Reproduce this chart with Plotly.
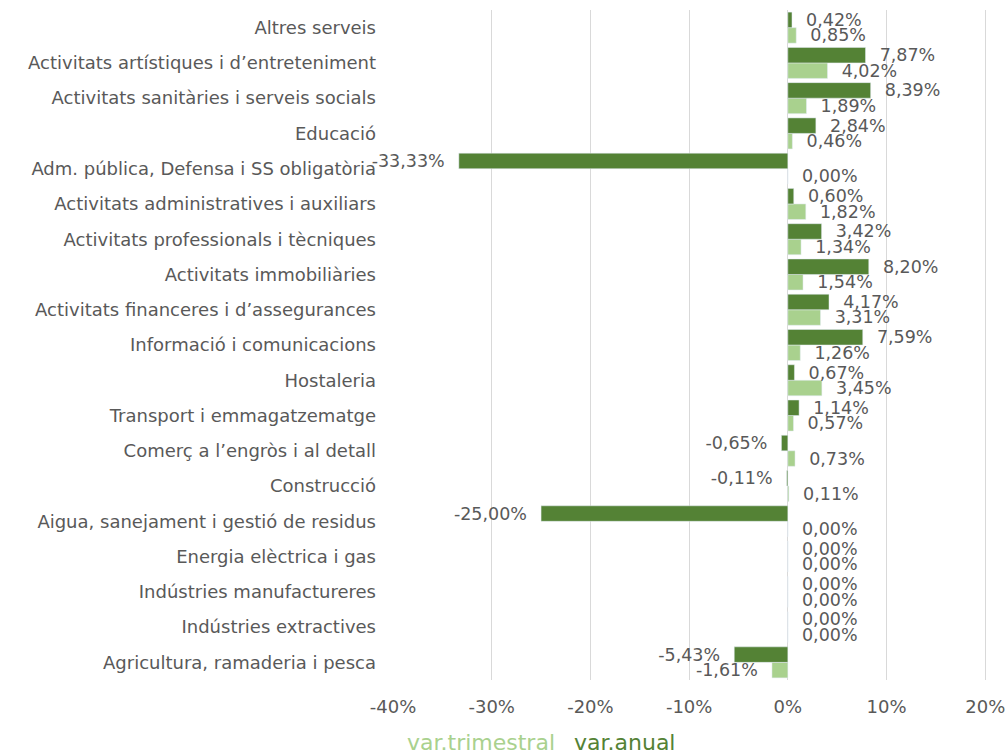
"""
Variació trimestral i anual per sector d'activitat - barres horitzontals
"""

import plotly.graph_objects as go

LIGHT_GREEN = '#A9D18E'
DARK_GREEN = '#548235'
TEXT_GREY = '#595959'
GRID_GREY = '#D9D9D9'
FONT = 'DejaVu Sans'

sectors = [
    'Agricultura, ramaderia i pesca',
    'Indústries extractives',
    'Indústries manufactureres',
    'Energia elèctrica i gas',
    'Aigua, sanejament i gestió de residus',
    'Construcció',
    'Comerç a l’engròs i al detall',
    'Transport i emmagatzematge',
    'Hostaleria',
    'Informació i comunicacions',
    'Activitats financeres i d’assegurances',
    'Activitats immobiliàries',
    'Activitats professionals i tècniques',
    'Activitats administratives i auxiliars',
    'Adm. pública, Defensa i SS obligatòria',
    'Educació',
    'Activitats sanitàries i serveis socials',
    'Activitats artístiques i d’entreteniment',
    'Altres serveis',
]

var_trimestral = [-1.61, 0.00, 0.00, 0.00, 0.00, 0.11, 0.73, 0.57, 3.45, 1.26,
                  3.31, 1.54, 1.34, 1.82, 0.00, 0.46, 1.89, 4.02, 0.85]
var_anual = [-5.43, 0.00, 0.00, 0.00, -25.00, -0.11, -0.65, 1.14, 0.67, 7.59,
             4.17, 8.20, 3.42, 0.60, -33.33, 2.84, 8.39, 7.87, 0.42]

x_tickvals = [-40, -30, -20, -10, 0, 10, 20]
x_ticktext = ['-40%', '-30%', '-20%', '-10%', '0%', '10%', '20%']


def fmt(v):
    # Catalan style: comma decimal, padded away from the bar end
    s = f'{v:.2f}'.replace('.', ',') + '%'
    pad = '\u00a0\u00a0'
    return s + pad if v < 0 else pad + s


fig = go.Figure()

for name, values, color in [
    ('var.trimestral', var_trimestral, LIGHT_GREEN),
    ('var.anual', var_anual, DARK_GREEN),
]:
    fig.add_trace(go.Bar(
        y=sectors,
        x=values,
        name=name,
        orientation='h',
        marker=dict(color=color),
        text=[fmt(v) for v in values],
        textposition='outside',
        constraintext='none',
        cliponaxis=False,
        textfont=dict(family=FONT, color=TEXT_GREY, size=17.5),
        showlegend=False,
    ))

# legend drawn as coloured text, no symbols
fig.add_annotation(text='var.trimestral', xref='paper', yref='paper',
                   x=0.268, y=-0.093, xanchor='right', yanchor='middle',
                   showarrow=False, font=dict(family=FONT, color=LIGHT_GREEN, size=22))
fig.add_annotation(text='var.anual', xref='paper', yref='paper',
                   x=0.293, y=-0.093, xanchor='left', yanchor='middle',
                   showarrow=False, font=dict(family=FONT, color=DARK_GREEN, size=22))

fig.update_layout(
    width=1008,
    height=755,
    barmode='group',
    bargap=0.12,
    bargroupgap=0,
    plot_bgcolor='white',
    paper_bgcolor='white',
    font=dict(family=FONT, color=TEXT_GREY, size=18),
    margin=dict(l=393, r=3, t=10, b=75),
    xaxis=dict(
        range=[-40, 22],
        tickvals=x_tickvals,
        ticktext=x_ticktext,
        showgrid=True,
        gridcolor=GRID_GREY,
        gridwidth=1,
        zeroline=False,
        ticklabelstandoff=14,
        tickfont=dict(size=18, color=TEXT_GREY),
    ),
    yaxis=dict(
        showgrid=False,
        ticklabelstandoff=16,
        tickfont=dict(size=18, color=TEXT_GREY),
    ),
)

fig.write_html("out.html", config={'displayModeBar': False},
               post_script="document.body.style.margin='0';")
